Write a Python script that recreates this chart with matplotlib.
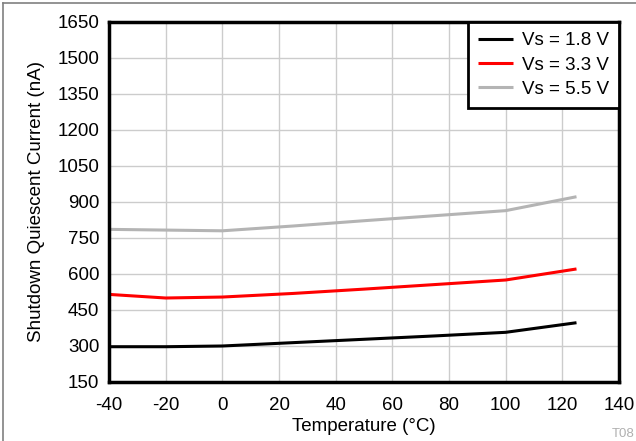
import matplotlib
matplotlib.use("Agg")
import matplotlib.pyplot as plt
from matplotlib.lines import Line2D

plt.rcParams['font.family'] = ['Liberation Sans', 'DejaVu Sans']
plt.rcParams['axes.unicode_minus'] = False

temps = [-40, -20, 0, 25, 50, 75, 100, 125]
vs18 = [297, 297, 300, 314, 328, 342, 357, 397]
vs33 = [515, 500, 504, 519, 537, 556, 575, 621]
vs55 = [786, 783, 780, 800, 822, 843, 864, 922]
labels = ["Vs = 1.8 V", "Vs = 3.3 V", "Vs = 5.5 V"]
colors = ["#000000", "#ff0000", "#b4b4b4"]
xticks = [-40, -20, 0, 20, 40, 60, 80, 100, 120, 140]
yticks = [150, 300, 450, 600, 750, 900, 1050, 1200, 1350, 1500, 1650]

fig = plt.figure(figsize=(6.36, 4.41), dpi=100)
ax = fig.add_axes([109/636, 1-382/441, (619-109)/636, (382-22)/441])

for y, lab, c in zip([vs18, vs33, vs55], labels, colors):
    ax.plot(temps, y, color=c, lw=2.2, label=lab, solid_capstyle='butt')

ax.set_xlim(-40, 140)
ax.set_ylim(150, 1650)
ax.set_xticks(xticks)
ax.set_yticks(yticks)
ax.grid(True, color="#cccccc", lw=1)
ax.set_axisbelow(True)
ax.tick_params(length=0, labelsize=13.5)
ax.tick_params(axis='x', pad=11)
ax.tick_params(axis='y', pad=7)
for s in ax.spines.values():
    s.set_linewidth(2.5)
    s.set_color("black")
ax.set_xlabel("Temperature (°C)", fontsize=13.5, labelpad=3)
ax.set_ylabel("Shutdown Quiescent Current (nA)", fontsize=13.5, labelpad=9)

leg = ax.legend(loc="upper right", fontsize=13.5, frameon=True, fancybox=False,
                edgecolor="black", framealpha=1, borderaxespad=0,
                handlelength=1.85, handletextpad=0.48, labelspacing=0.38,
                borderpad=0.55)
leg.get_frame().set_linewidth(2)

fig.add_artist(Line2D([3/636, 3/636], [0, 1-3/441], color="#808080", lw=1.2, transform=fig.transFigure))
fig.add_artist(Line2D([3/636, 1], [1-3/441, 1-3/441], color="#808080", lw=1.2, transform=fig.transFigure))
fig.text(635/636, 1-434/441, "T08", fontsize=9.5, color="#b0b0b0", ha="right", va="center")

fig.savefig("out.png", dpi=100)
